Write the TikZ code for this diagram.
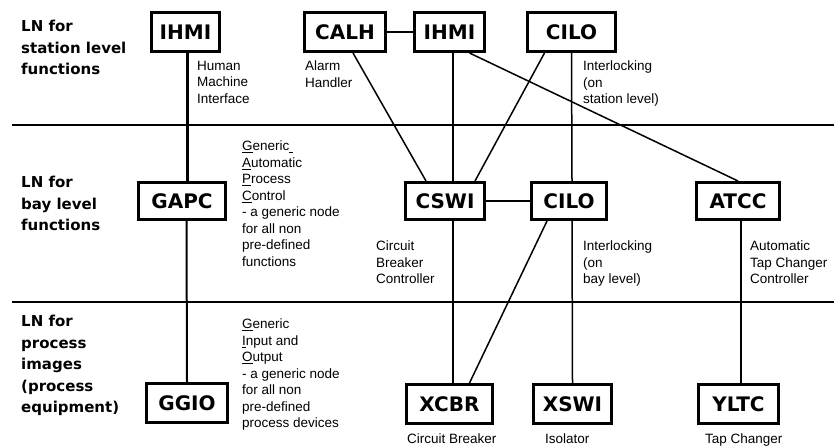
\documentclass[tikz,border=0pt]{standalone}
\usepackage{fontspec}
\setmainfont{Liberation Sans}
\newfontfamily\lnfont{DejaVu Sans}
\usetikzlibrary{positioning}

\begin{document}
\begin{tikzpicture}[x=1pt, y=-1pt,
                lnbox/.style n args={2}{draw, line width=3pt,
                    minimum width=#1pt,
                    minimum height=#2pt,
                    inner sep=0pt,
                    font=\lnfont\bfseries\fontsize{20}{20}\selectfont},
                level/.style={anchor=north west, align=left, inner sep=0pt,
                    font=\lnfont\bfseries\fontsize{15}{21.5}\selectfont},
                note/.style={anchor=north west, align=left, inner sep=0pt,
                    font=\fontsize{13.5}{16.5}\selectfont},
                link/.style={line width=1.5pt},
                sep/.style={line width=1.5pt}]
                \useasboundingbox[fill=white] (0,0) rectangle (834,446);
                % level separators
                \draw[sep] (12,125) -- (834,125);
                \draw[sep] (12,302) -- (834,302);
                % level titles
                \node[level] (tstation) at (21,20) {LN for\\station level\\functions};
                \node[level] (tbay) at (21,176) {LN for\\bay level\\functions};
                \node[level] (tprocess) at (21,315) {LN for\\process\\images\\(process\\equipment)};
                % station level
                \node[lnbox={68}{39}] (ihmiS) at (185.5,32) {IHMI};
                \node[lnbox={81}{39}] (calh) at (345,32) {CALH};
                \node[lnbox={70}{39}] (ihmiC) at (449.5,32) {IHMI};
                \node[lnbox={88}{39}] (ciloS) at (571.5,32) {CILO};
                % bay level
                \node[lnbox={87}{37}] (gapc) at (182,201) {GAPC};
                \node[lnbox={79}{37}] (cswi) at (445,201) {CSWI};
                \node[lnbox={75}{37}] (ciloB) at (569,201) {CILO};
                \node[lnbox={83}{37}] (atcc) at (738,201) {ATCC};
                % process level
                \node[lnbox={81}{39}] (ggio) at (187,403) {GGIO};
                \node[lnbox={86}{39}] (xcbr) at (449.5,404) {XCBR};
                \node[lnbox={78}{39}] (xswi) at (572.5,404) {XSWI};
                \node[lnbox={80}{39}] (yltc) at (738.5,404) {YLTC};
                % explanations
                \node[note] (nihmi) at (197,61) {Human\\Machine\\Interface};
                \node[note] (ncalh) at (305,61) {Alarm\\Handler};
                \node[note] (nciloS) at (583,61) {Interlocking\\(on\\station level)};
                \node[note] (ngapc) at (242,141) {\underline{G}eneric\underline{\ }\\\underline{A}utomatic\\\underline{P}rocess\\\underline{C}ontrol\\- a generic node\\for all non\\pre-defined\\functions};
                \node[note] (ncswi) at (376,241) {Circuit\\Breaker\\Controller};
                \node[note] (nciloB) at (583,241) {Interlocking\\(on\\bay level)};
                \node[note] (natcc) at (750,241) {Automatic\\Tap Changer\\Controller};
                \node[note] (nggio) at (242,319) {\underline{G}eneric\\\underline{I}nput and\\\underline{O}utput\\- a generic node\\for all non\\pre-defined\\process devices};
                \node[note] (nxcbr) at (407,434) {Circuit Breaker};
                \node[note] (nxswi) at (545,434) {Isolator};
                \node[note] (nyltc) at (705,434) {Tap Changer};
                % connections
                \draw[line width=3pt] ([xshift=1.5pt]ihmiS.south) -- ([xshift=5pt]gapc.north);
                \draw[line width=2pt] ([xshift=4.5pt]gapc.south) -- (ggio.north);
                \draw[link] (calh.east) -- (ihmiC.west);
                \draw[link] ([xshift=8pt]calh.south) -- ([xshift=-19pt]cswi.north);
                \draw[link] ([xshift=3.5pt]ihmiC.south) -- ([xshift=8pt]cswi.north);
                \draw[link] ([xshift=20pt]ihmiC.south) -- (atcc.north);
                \draw[link] ([xshift=-27pt]ciloS.south) -- ([xshift=30pt]cswi.north);
                \draw[link] (ciloS.south) -- ([xshift=3pt]ciloB.north);
                \draw[link] (cswi.east) -- (ciloB.west);
                \draw[link] ([xshift=8pt]cswi.south) -- ([xshift=3.5pt]xcbr.north);
                \draw[link] ([xshift=-22pt]ciloB.south) -- ([xshift=20pt]xcbr.north);
                \draw[link] ([xshift=3pt]ciloB.south) -- (xswi.north);
                \draw[link] ([xshift=3pt]atcc.south) -- ([xshift=2.5pt]yltc.north);
            \end{tikzpicture}
\end{document}
